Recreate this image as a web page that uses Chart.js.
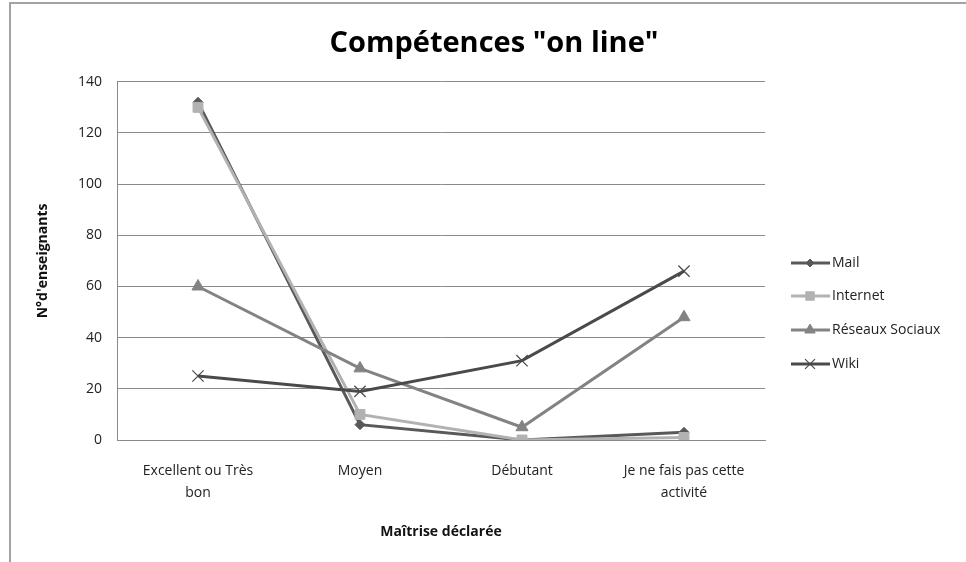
<!DOCTYPE html>
<html>
<head>
<meta charset="utf-8">
<script src="https://cdn.jsdelivr.net/npm/chart.js@4/dist/chart.umd.min.js"></script>
<style>
  html, body { margin: 0; padding: 0; background: #fff; }
  #wrap { position: relative; width: 966px; height: 562px; }
</style>
</head>
<body>
<div id="wrap"><canvas id="chart" width="966" height="562"></canvas></div>
<script>
const categories = [["Excellent ou Très", "bon"], "Moyen", "Débutant", ["Je ne fais pas cette", "activité"]];
const mail = [132, 6, 0, 3];
const internet = [130, 10, 0, 1];
const reseaux = [60, 28, 5, 48];
const wiki = [25, 19, 31, 66];
const seriesNames = ["Mail", "Internet", "Réseaux Sociaux", "Wiki"];

const FONT = "'Open Sans', sans-serif";

const styles = [
  { color: "#595959", point: "rectRot", radius: 5 },
  { color: "#b2b2b2", point: "rect", radius: 7 },
  { color: "#838383", point: "triangle", radius: 7 },
  { color: "#4a4a4a", point: "crossRot", radius: 8 }
];

function makeDataset(label, data, i) {
  const s = styles[i];
  return {
    label: label,
    data: data,
    borderColor: s.color,
    backgroundColor: s.color,
    borderWidth: 3,
    pointStyle: s.point,
    pointRadius: s.radius,
    pointBorderWidth: s.point === "crossRot" ? 1.2 : 1,
    pointBorderColor: s.color,
    pointBackgroundColor: s.color,
    tension: 0,
    order: 4 - i
  };
}

// frame + legend drawn by hand to match the spreadsheet look
const decor = {
  id: "decor",
  beforeDraw(chart) {
    const ctx = chart.ctx;
    ctx.save();
    ctx.strokeStyle = "#a2a2a2";
    ctx.lineWidth = 2;
    ctx.beginPath();
    ctx.moveTo(10, 562);
    ctx.lineTo(10, 3);
    ctx.lineTo(966, 3);
    ctx.stroke();
    ctx.restore();
  },
  afterDraw(chart) {
    const ctx = chart.ctx;
    const rows = [263, 296, 330, 364];
    ctx.save();
    chart.data.datasets.forEach((ds, i) => {
      const y = rows[i];
      ctx.strokeStyle = ds.borderColor;
      ctx.lineWidth = 3;
      ctx.beginPath();
      ctx.moveTo(791, y);
      ctx.lineTo(830, y);
      ctx.stroke();
      ctx.fillStyle = ds.borderColor;
      ctx.strokeStyle = ds.borderColor;
      ctx.lineWidth = ds.pointBorderWidth;
      Chart.helpers.drawPoint(ctx, {
        pointStyle: ds.pointStyle,
        radius: ds.pointRadius - 1,
        borderWidth: ds.pointBorderWidth,
        rotation: 0
      }, 810, y);
      ctx.fillStyle = "#222";
      ctx.font = "14px " + FONT;
      ctx.textBaseline = "middle";
      ctx.textAlign = "left";
      ctx.fillText(ds.label, 832, y);
    });
    ctx.restore();
  }
};

new Chart(document.getElementById("chart"), {
  type: "line",
  data: {
    labels: categories,
    datasets: [
      makeDataset(seriesNames[0], mail, 0),
      makeDataset(seriesNames[1], internet, 1),
      makeDataset(seriesNames[2], reseaux, 2),
      makeDataset(seriesNames[3], wiki, 3)
    ]
  },
  options: {
    responsive: false,
    animation: false,
    layout: { padding: { left: 22, right: 0, top: 0, bottom: 22 } },
    plugins: {
      legend: { display: false },
      tooltip: { enabled: false },
      title: {
        display: true,
        text: 'Compétences "on line"',
        color: "#000",
        font: { family: FONT, size: 29, weight: "bold" },
        padding: { top: 26, bottom: 21 }
      }
    },
    scales: {
      x: {
        offset: true,
        grid: { display: false, drawTicks: false },
        border: { color: "#8a8a8a", width: 1 },
        ticks: {
          color: "#222",
          font: { family: FONT, size: 14, lineHeight: 1.55 },
          padding: 20,
          maxRotation: 0,
          autoSkip: false
        },
        title: {
          display: true,
          text: "Maîtrise déclarée",
          color: "#111",
          font: { family: FONT, size: 14, weight: "bold" },
          padding: { top: 16, bottom: 0 }
        },
        afterFit(scale) { scale.height = 100; }
      },
      y: {
        min: 0,
        max: 140,
        ticks: {
          stepSize: 20,
          color: "#222",
          font: { family: FONT, size: 14 },
          padding: 15
        },
        grid: { color: "#8a8a8a", lineWidth: 1, drawTicks: false },
        border: { color: "#8a8a8a", width: 1 },
        title: {
          display: true,
          text: "N°d'enseignants",
          color: "#111",
          font: { family: FONT, size: 14, weight: "bold" },
          padding: { top: 13, bottom: 0 }
        },
        afterFit(scale) { scale.width = 95; }
      },
      y2: {
        position: "right",
        display: true,
        grid: { display: false },
        border: { display: false },
        ticks: { display: false },
        afterFit(scale) { scale.width = 201; }
      }
    }
  },
  plugins: [decor]
});
</script>
</body>
</html>
